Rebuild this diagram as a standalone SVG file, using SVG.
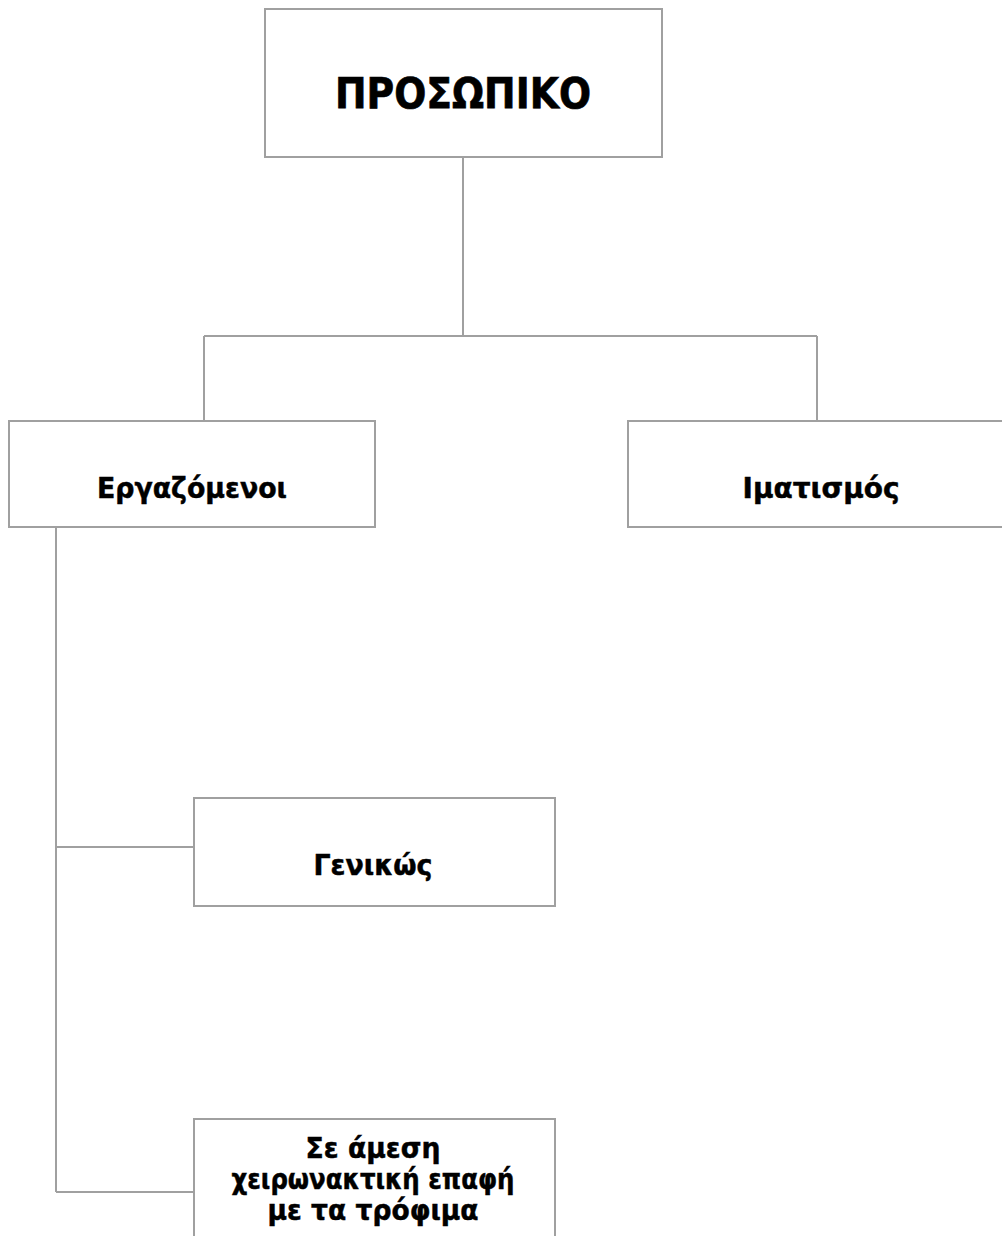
<svg xmlns="http://www.w3.org/2000/svg" width="1002" height="1236" viewBox="0 0 1002 1236">
  <style>
    .box { fill: #ffffff; stroke: #a0a0a0; stroke-width: 2; }
    .wire { fill: none; stroke: #a0a0a0; stroke-width: 2; }
    .lbl { font-family: "DejaVu Sans", Verdana, sans-serif; font-weight: bold; fill: #000000; stroke: #000000; stroke-width: 0.5; text-anchor: middle; }
    .big { font-size: 42px; stroke-width: 0.7; }
    .mid { font-size: 29px; }
  </style>
  <rect width="1002" height="1236" fill="#ffffff"/>

  <!-- connectors -->
  <g id="connectors">
    <path class="wire" d="M463,157 V336"/>
    <path class="wire" d="M204,336 H817"/>
    <path class="wire" d="M204,336 V421"/>
    <path class="wire" d="M817,336 V421"/>
    <path class="wire" d="M56,527 V1192"/>
    <path class="wire" d="M56,847 H194"/>
    <path class="wire" d="M56,1192 H194"/>
  </g>

  <g id="node-personnel">
    <rect class="box" x="265" y="9" width="397" height="148"/>
    <text class="lbl big" x="463" y="108" textLength="256" lengthAdjust="spacingAndGlyphs">ΠΡΟΣΩΠΙΚΟ</text>
  </g>

  <g id="node-employees">
    <rect class="box" x="9" y="421" width="366" height="106"/>
    <text class="lbl mid" x="192" y="498" textLength="190" lengthAdjust="spacingAndGlyphs">Εργαζόμενοι</text>
  </g>

  <g id="node-clothing">
    <rect class="box" x="628" y="421" width="387" height="106"/>
    <text class="lbl mid" x="821" y="498" textLength="157" lengthAdjust="spacingAndGlyphs">Ιματισμός</text>
  </g>

  <g id="node-general">
    <rect class="box" x="194" y="798" width="361" height="108"/>
    <text class="lbl mid" x="373" y="875" textLength="119" lengthAdjust="spacingAndGlyphs">Γενικώς</text>
  </g>

  <g id="node-food-contact">
    <rect class="box" x="194" y="1119" width="361" height="130"/>
    <text class="lbl mid" x="373" y="1158" textLength="135" lengthAdjust="spacingAndGlyphs">Σε άμεση</text>
    <text class="lbl mid" x="373" y="1189" textLength="283" lengthAdjust="spacingAndGlyphs">χειρωνακτική επαφή</text>
    <text class="lbl mid" x="373" y="1220" textLength="211" lengthAdjust="spacingAndGlyphs">με τα τρόφιμα</text>
  </g>
</svg>
